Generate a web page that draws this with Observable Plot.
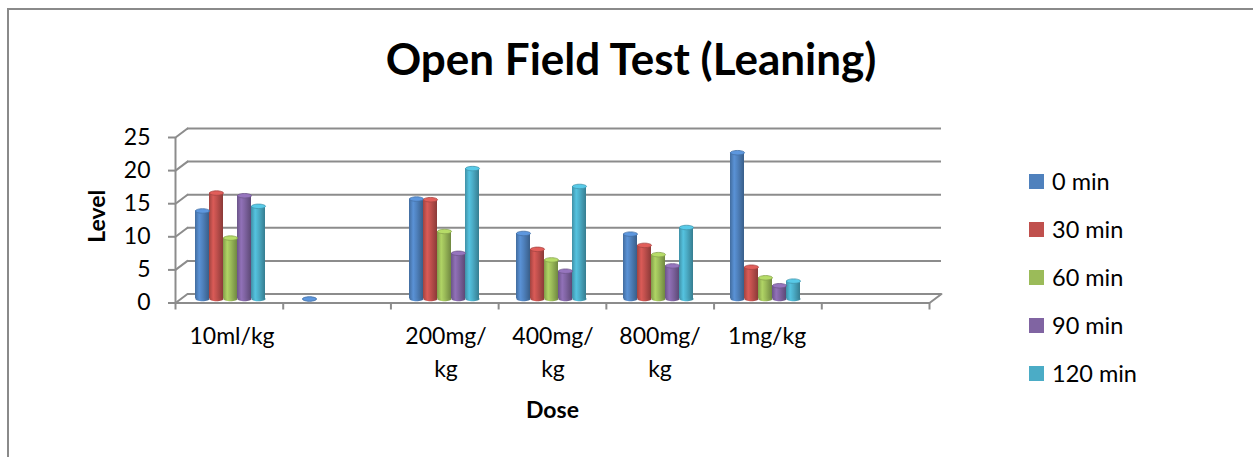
<!DOCTYPE html>
<html><head><meta charset="utf-8">
<script src="https://cdn.jsdelivr.net/npm/d3@7"></script>
<script src="https://cdn.jsdelivr.net/npm/@observablehq/plot@0.6"></script>
<style>
html,body{margin:0;padding:0;background:#fff;overflow:hidden}
#wrap{position:relative;width:1253px;height:457px;font-family:Lato,"Open Sans",sans-serif;color:#000}
#border{position:absolute;left:7px;top:8px;width:1400px;height:600px;border-left:2px solid #8a8a8a;border-top:2px solid #8a8a8a}
#title{position:absolute;left:0;top:33px;width:1262px;text-align:center;font-weight:700;font-size:44px;line-height:50px;margin:0}
.layer{position:absolute;left:0;top:100px}
#legend{position:absolute;left:1029px;top:157px}
.row{display:flex;align-items:center;height:48px;font-size:23.5px}
.sw{width:15px;height:15px;margin-right:8px}
</style></head><body>
<div id="wrap">
  <div id="border"></div>
  <h1 id="title">Open Field Test (Leaning)</h1>
  <div id="back" class="layer"></div>
  <div id="front" class="layer"></div>
  <div id="legend"></div>
</div>
<script>
// ---- data ----
const doses = ["10ml/kg", "", "200mg/kg", "400mg/kg", "800mg/kg", "1mg/kg", ""];
const series = ["0 min", "30 min", "60 min", "90 min", "120 min"];
const min0   = [13.3, 0,    15.1, 9.9, 9.8, 22.1, null];
const min30  = [16.0, null, 15.0, 7.5, 8.1, 4.8,  null];
const min60  = [9.2,  null, 10.2, 5.9, 6.7, 3.2,  null];
const min90  = [15.6, null, 6.9,  4.2, 5.0, 2.0,  null];
const min120 = [14.0, null, 19.7, 17.0, 10.8, 2.7, null];
const yTicks = [0, 5, 10, 15, 20, 25];
const colors = ["#4F81BD", "#C0504D", "#9BBB59", "#8064A2", "#4BACC6"];

const values = [min0, min30, min60, min90, min120];
const table = [];
doses.forEach((dose, i) => series.forEach((s, j) => table.push({dose: i, series: s, value: values[j][i]})));

// ---- layout ----
const W = 1253, H = 357;
const margins = {marginTop: 33, marginBottom: 158.5, marginLeft: 175, marginRight: 324};
const frontDy = 4, backDx = 12, backDy = -5;
const depthLen = Math.hypot(backDx, frontDy - backDy);
const depthAngle = Math.atan2(backDx, frontDy - backDy) * 180 / Math.PI;
const grid = "#8c8c8c";
const font = "Lato, 'Open Sans', sans-serif";
const lineShape = {draw(context, l) { context.moveTo(0, 0); context.lineTo(0, -l); }};
const ellipse = {draw(context, size) {
  const rx = Math.sqrt(size / Math.PI), ry = rx * 0.32, k = 0.5523;
  context.moveTo(-rx, 0);
  context.bezierCurveTo(-rx, -ry * k, -rx * k, -ry, 0, -ry);
  context.bezierCurveTo(rx * k, -ry, rx, -ry * k, rx, 0);
  context.bezierCurveTo(rx, ry * k, rx * k, ry, 0, ry);
  context.bezierCurveTo(-rx * k, ry, -rx, ry * k, -rx, 0);
  context.closePath();
}};
const wrap = s => s.length > 7 ? s.replace("/", "/\n") : s;

// ---- back layer: 3D frame, gridlines, y axis ----
const backChart = Plot.plot({
  width: W, height: H, ...margins,
  style: {fontFamily: font, fontSize: "23px", background: "transparent", color: "#000"},
  x: {domain: [0, doses.length]},
  y: {domain: [0, 25]},
  marks: [
    Plot.ruleY(yTicks, {dx: backDx, dy: backDy, stroke: grid, strokeWidth: 2}),
    Plot.vector(yTicks, {x: 0, y: d => d, dy: frontDy, length: depthLen, rotate: depthAngle, anchor: "start", shape: lineShape, stroke: grid, strokeWidth: 2}),
    Plot.vector([doses.length], {x: d => d, y: 0, dy: frontDy, length: depthLen, rotate: depthAngle, anchor: "start", shape: lineShape, stroke: grid, strokeWidth: 2}),
    Plot.ruleX([0], {dy: frontDy, stroke: grid, strokeWidth: 2}),
    Plot.ruleY([0], {dy: frontDy, stroke: grid, strokeWidth: 2}),
    Plot.axisY({ticks: yTicks, tickSize: 7, tickPadding: 18, dy: frontDy, stroke: grid, strokeWidth: 2, fill: "#000", fontSize: 23, label: null}),
    Plot.axisX({ticks: d3.range(doses.length + 1), tickSize: 7, tickFormat: () => "", dy: frontDy, stroke: grid, strokeWidth: 2, label: null}),
    Plot.text(["Dose"], {text: d => d, frameAnchor: "bottom", dy: 119, fontWeight: "bold", fontSize: 23, fill: "#000"}),
    Plot.text(["Level"], {text: d => d, frameAnchor: "left", textAnchor: "middle", dx: -78, rotate: -90, fontWeight: "bold", fontSize: 23, fill: "#000"})
  ]
});
document.getElementById("back").appendChild(backChart);

// ---- front layer: cylinder bars ----
const valid = table.filter(d => d.value != null);
const frontChart = Plot.plot({
  width: W, height: H, ...margins,
  style: {fontFamily: font, fontSize: "23px", background: "transparent", color: "#000"},
  fx: {domain: d3.range(doses.length), padding: 0, label: null},
  x: {domain: series, axis: null, paddingInner: 0.03, paddingOuter: 0, insetLeft: 16, insetRight: 19},
  y: {domain: [0, 25], axis: null},
  color: {domain: series, range: series.map((s, j) => `url(#cyl${j})`)},
  marks: [
    Plot.dot(valid, {fx: "dose", x: "series", y: () => 0, r: 7, symbol: ellipse, fill: "series"}),
    Plot.barY(table, {fx: "dose", x: "series", y: "value", fill: "series"}),
    ...series.map((s, j) => Plot.dot(valid.filter(d => d.series === s), {
      fx: "dose", x: "series", y: "value", r: 7, symbol: ellipse,
      fill: d3.color(colors[j]).brighter(0.45).formatHex(),
      stroke: d3.color(colors[j]).darker(0.4).formatHex(), strokeWidth: 0.8
    })),
    Plot.axisFx({anchor: "bottom", tickSize: 0, tickPadding: 21, tickFormat: i => wrap(doses[i]), lineHeight: 1.45, lineAnchor: "top", fontSize: 23, fill: "#000", label: null})
  ]
});
const defs = d3.select(frontChart).insert("defs", ":first-child");
colors.forEach((c, j) => {
  const base = d3.color(c);
  const g = defs.append("linearGradient").attr("id", `cyl${j}`).attr("x1", 0).attr("x2", 1).attr("y1", 0).attr("y2", 0);
  [[0, base.darker(0.5)], [0.3, base.brighter(0.35)], [0.55, base], [1, base.darker(0.9)]]
    .forEach(([o, col]) => g.append("stop").attr("offset", o).attr("stop-color", col.formatHex()));
});
document.getElementById("front").appendChild(frontChart);

// ---- legend ----
const legend = d3.select("#legend");
series.forEach((s, j) => {
  const row = legend.append("div").attr("class", "row");
  row.append("div").attr("class", "sw").style("background", colors[j]);
  row.append("span").text(s);
});
</script>
</body></html>
